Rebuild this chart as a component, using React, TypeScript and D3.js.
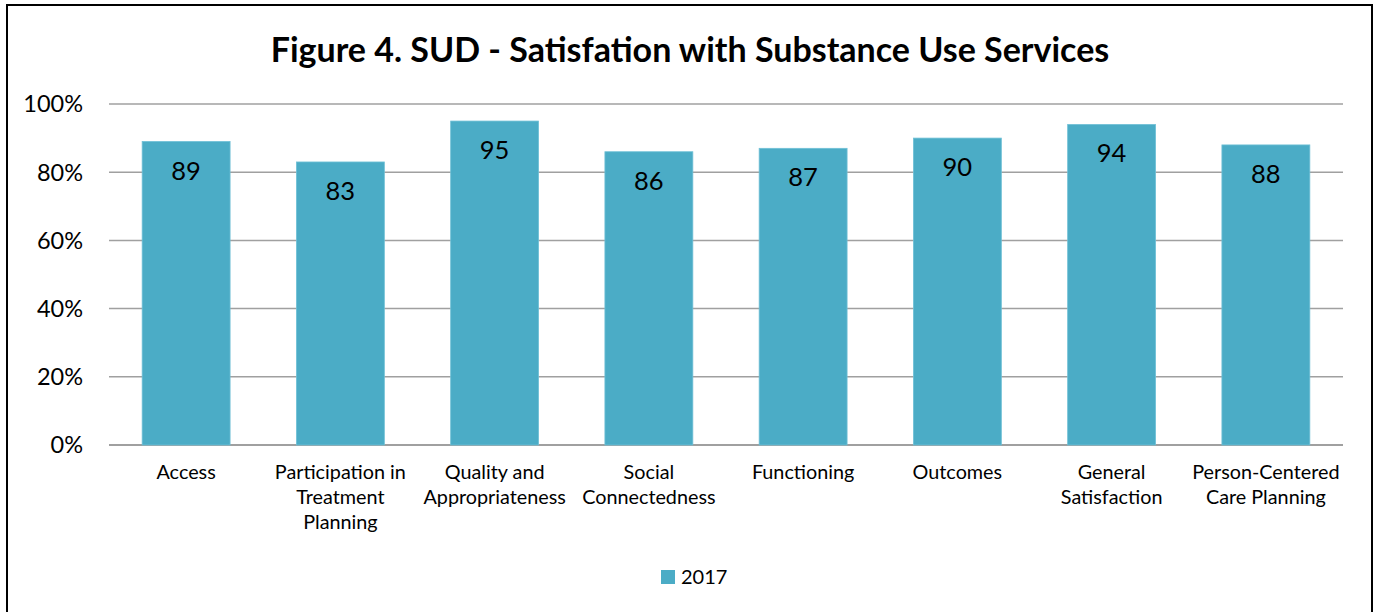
import React from "react";
import * as d3 from "d3";

const categories = [
  "Access",
  "Participation in Treatment Planning",
  "Quality and Appropriateness",
  "Social Connectedness",
  "Functioning",
  "Outcomes",
  "General Satisfaction",
  "Person-Centered Care Planning",
];
const categoryLines = [
  ["Access"],
  ["Participation in", "Treatment", "Planning"],
  ["Quality and", "Appropriateness"],
  ["Social", "Connectedness"],
  ["Functioning"],
  ["Outcomes"],
  ["General", "Satisfaction"],
  ["Person-Centered", "Care Planning"],
];
const values2017 = [89, 83, 95, 86, 87, 90, 94, 88];
const yTicks = [0, 20, 40, 60, 80, 100];
const seriesName = "2017";
const title = "Figure 4. SUD - Satisfation with Substance Use Services";

const W = 1380;
const H = 612;
const FONT = "Lato, 'Open Sans', sans-serif";
const BAR = "#4BACC6";

export default function App() {
  const x = d3.scaleBand<string>().domain(categories).range([109, 1343]).paddingInner(0.43).paddingOuter(0.215);
  const y = d3.scaleLinear().domain([0, 100]).range([445, 104]);

  return (
    <svg width={W} height={H} style={{ position: "absolute", left: 0, top: 0 }}>
      <rect x={0} y={0} width={W} height={H} fill="#fff" />
      <rect x={7} y={5} width={1365} height={620} fill="none" stroke="#000" strokeWidth={2} />
      <text x={690} y={62} textAnchor="middle" fontFamily={FONT} fontWeight="bold" fontSize={34} fill="#000">
        {title}
      </text>
      {yTicks.map((t) => (
        <g key={t}>
          <line x1={109} x2={1343} y1={y(t)} y2={y(t)} stroke="#A0A0A0" strokeWidth={t === 0 ? 2 : 1.5} />
          <text x={83} y={y(t)} dy="0.36em" textAnchor="end" fontFamily={FONT} fontSize={23.5} fill="#000">
            {t + "%"}
          </text>
        </g>
      ))}
      {categories.map((c, i) => {
        const bx = x(c)!;
        const bw = x.bandwidth();
        const v = values2017[i];
        return (
          <g key={c}>
            <rect x={bx} y={y(v)} width={bw} height={y(0) - y(v)} fill={BAR} stroke="#6FC0D6" strokeWidth={0.8} />
            <text x={bx + bw / 2} y={y(v) + 38} textAnchor="middle" fontFamily={FONT} fontSize={25.5} fill="#000">
              {v}
            </text>
            {categoryLines[i].map((ln, j) => (
              <text key={j} x={bx + bw / 2} y={479 + j * 25} textAnchor="middle" fontFamily={FONT} fontSize={19.8} fill="#000">
                {ln}
              </text>
            ))}
          </g>
        );
      })}
      <rect x={661} y={570} width={14} height={14} fill={BAR} />
      <text x={681} y={584} fontFamily={FONT} fontSize={20} fill="#000">
        {seriesName}
      </text>
    </svg>
  );
}
